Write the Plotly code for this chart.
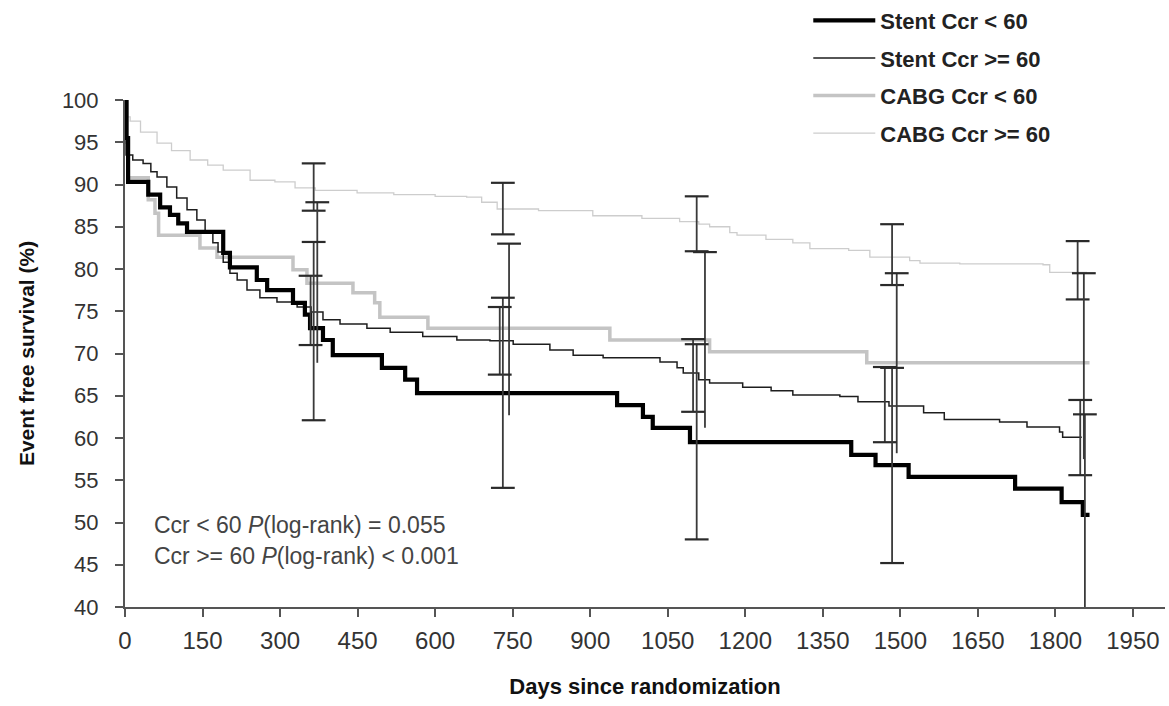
import plotly.graph_objects as go

# ---------------- data ----------------
stent_lo_days = [0, 3, 6, 45, 68, 87, 103, 120, 190, 203, 255, 275, 325, 348, 358, 383, 402,
                 497, 542, 565, 952, 1002, 1021, 1093, 1405, 1452, 1516, 1722, 1812, 1853, 1866]
stent_lo_vals = [100, 95.5, 90.3, 88.8, 87.3, 86.4, 85.4, 84.4, 81.9, 80.2, 78.7, 77.5, 76.0, 74.6,
                 73.0, 71.6, 69.8, 68.3, 66.9, 65.3, 63.9, 62.5, 61.2, 59.5, 58.0, 56.8, 55.4,
                 54.0, 52.4, 50.9, 50.9]

stent_hi_days = [0, 2, 15, 35, 50, 62, 81, 100, 120, 139, 155, 170, 180, 190, 203, 217, 236, 261,
                 294, 333, 360, 383, 416, 468, 513, 576, 642, 706, 751, 822, 867, 925, 1035, 1068,
                 1080, 1110, 1131, 1195, 1250, 1292, 1383, 1418, 1478, 1545, 1585, 1692, 1745,
                 1808, 1814, 1851]
stent_hi_vals = [100, 93.5, 92.9, 92.5, 91.5, 90.9, 89.7, 88.4, 87.0, 85.8, 84.4, 83.1, 82.0, 80.8,
                 79.5, 78.7, 77.5, 76.6, 76.1, 75.5, 74.9, 74.0, 73.5, 73.0, 72.5, 72.0, 71.6,
                 71.5, 71.1, 70.4, 69.8, 69.5, 69.0, 68.3, 67.7, 66.9, 66.5, 66.0, 65.6, 65.1,
                 64.9, 64.3, 63.8, 63.0, 62.2, 61.9, 61.3, 60.7, 60.1, 60.1]

cabg_lo_days = [0, 3, 6, 45, 58, 65, 145, 178, 325, 352, 441, 483, 493, 586, 938, 1131, 1435, 1866]
cabg_lo_vals = [100, 95.0, 90.8, 88.2, 86.6, 84.0, 82.5, 81.4, 79.9, 78.3, 77.2, 76.0, 74.3, 73.0,
                71.6, 70.2, 68.9, 68.9]

cabg_hi_days = [0, 3, 10, 30, 62, 90, 126, 160, 190, 242, 290, 329, 368, 449, 520, 600, 661, 690,
                720, 800, 905, 1000, 1073, 1110, 1131, 1170, 1184, 1240, 1292, 1325, 1400, 1441,
                1518, 1538, 1615, 1776, 1789, 1861]
cabg_hi_vals = [100, 98.0, 97.5, 96.2, 94.9, 94.0, 92.9, 92.3, 91.7, 90.5, 90.3, 89.6, 89.3, 89.0,
                88.8, 88.6, 88.5, 87.9, 87.1, 86.9, 86.3, 86.0, 85.6, 85.3, 85.0, 84.3, 84.0,
                83.5, 83.1, 82.4, 82.2, 81.4, 81.0, 80.7, 80.6, 80.5, 79.6, 79.6]

# confidence-interval bars: day, upper, lower
ci_stent_lo_x = [365, 731, 1106, 1484, 1857]
ci_stent_lo_up = [83.2, 76.6, 71.1, 68.3, 62.8]
ci_stent_lo_dn = [62.1, 54.1, 48.0, 45.2, 38.5]

ci_stent_hi_x = [359, 725, 1099, 1470, 1848]
ci_stent_hi_up = [79.2, 75.5, 71.7, 68.4, 64.5]
ci_stent_hi_dn = [71.0, 67.5, 63.1, 59.5, 55.6]

ci_cabg_hi_x = [365, 731, 1106, 1484, 1843]
ci_cabg_hi_up = [92.5, 90.2, 88.6, 85.3, 83.3]
ci_cabg_hi_dn = [86.9, 84.1, 82.1, 78.1, 76.4]

ci_cabg_lo_x = [372, 743, 1122, 1493, 1855]
ci_cabg_lo_up = [87.9, 83.0, 82.0, 79.5, 79.5]
ci_cabg_lo_dn = [68.9, 62.7, 61.2, 58.2, 57.5]

x_ticks = [0, 150, 300, 450, 600, 750, 900, 1050, 1200, 1350, 1500, 1650, 1800, 1950]
y_ticks = [40, 45, 50, 55, 60, 65, 70, 75, 80, 85, 90, 95, 100]

FONT = "Liberation Sans, Arial, sans-serif"
fig = go.Figure()

# survival curves (drawn light first, dark on top)
curves = [
    ("CABG Ccr &gt;= 60", cabg_hi_days, cabg_hi_vals, "#cdcdcd", 1.3, 4),
    ("CABG Ccr &lt; 60", cabg_lo_days, cabg_lo_vals, "#c4c4c4", 3.5, 3),
    ("Stent Ccr &gt;= 60", stent_hi_days, stent_hi_vals, "#1e1e1e", 1.5, 2),
    ("Stent Ccr &lt; 60", stent_lo_days, stent_lo_vals, "#000000", 4.2, 1),
]
for name, xs, ys, col, w, rank in curves:
    fig.add_trace(go.Scatter(x=xs, y=ys, mode="lines", name=name,
                             line=dict(color=col, width=w, shape="hv"),
                             legendgroup=name, legendrank=rank))

# error bars
def bar_traces(xs, ups, dns, lower_cap=True):
    lx, ly = [], []
    for x, u, d in zip(xs, ups, dns):
        lx += [x, x, None]
        ly += [u, d, None]
    fig.add_trace(go.Scatter(x=lx, y=ly, mode="lines", showlegend=False,
                             line=dict(color="#3a3a3a", width=1.8), hoverinfo="skip"))
    cx = list(xs) + (list(xs) if lower_cap else [])
    cy = list(ups) + (list(dns) if lower_cap else [])
    fig.add_trace(go.Scatter(x=cx, y=cy, mode="markers", showlegend=False, hoverinfo="skip",
                             marker=dict(symbol="line-ew", size=17,
                                         line=dict(color="#2a2a2a", width=2.2))))

bar_traces(ci_cabg_hi_x, ci_cabg_hi_up, ci_cabg_hi_dn)
bar_traces(ci_cabg_lo_x, ci_cabg_lo_up, ci_cabg_lo_dn, lower_cap=False)
bar_traces(ci_stent_hi_x, ci_stent_hi_up, ci_stent_hi_dn)
bar_traces(ci_stent_lo_x, ci_stent_lo_up, ci_stent_lo_dn)

fig.add_annotation(xref="paper", yref="paper", x=0.026, y=0.162, xanchor="left", yanchor="middle",
                   text="Ccr &lt; 60 <i>P</i>(log-rank) = 0.055", showarrow=False,
                   font=dict(family=FONT, size=23, color="#444444"))
fig.add_annotation(xref="paper", yref="paper", x=0.026, y=0.100, xanchor="left", yanchor="middle",
                   text="Ccr &gt;= 60 <i>P</i>(log-rank) &lt; 0.001", showarrow=False,
                   font=dict(family=FONT, size=23, color="#444444"))

fig.update_layout(
    width=1169, height=706,
    margin=dict(l=125, r=4, t=100, b=99, autoexpand=False),
    paper_bgcolor="white", plot_bgcolor="white",
    font=dict(family=FONT, color="#333333"),
    showlegend=True,
    legend=dict(x=0.657, y=1.198, xanchor="left", yanchor="top",
                font=dict(family=FONT, size=22, color="#222222", weight="bold"),
                itemwidth=62, tracegroupgap=6, bgcolor="rgba(0,0,0,0)",
                traceorder="grouped"),
    xaxis=dict(range=[0, 2012], tickvals=x_ticks, ticks="outside", ticklen=8, tickwidth=1.5,
               tickcolor="#555555", showline=True, linecolor="#555555", linewidth=2,
               showgrid=False, zeroline=False, ticklabelstandoff=3,
               tickfont=dict(family=FONT, size=24, color="#333333"),
               title=dict(text="Days since randomization", standoff=26,
                          font=dict(family=FONT, size=22, color="#111111", weight="bold"))),
    yaxis=dict(range=[40, 100], tickvals=y_ticks, ticks="outside", ticklen=8, tickwidth=1.5,
               tickcolor="#555555", showline=True, linecolor="#555555", linewidth=2,
               showgrid=False, zeroline=False, ticklabelstandoff=12,
               tickfont=dict(family=FONT, size=22, color="#333333"),
               title=dict(text="Event free survival (%)", standoff=22,
                          font=dict(family=FONT, size=21, color="#111111", weight="bold"))),
)

fig.write_html("out.html")
